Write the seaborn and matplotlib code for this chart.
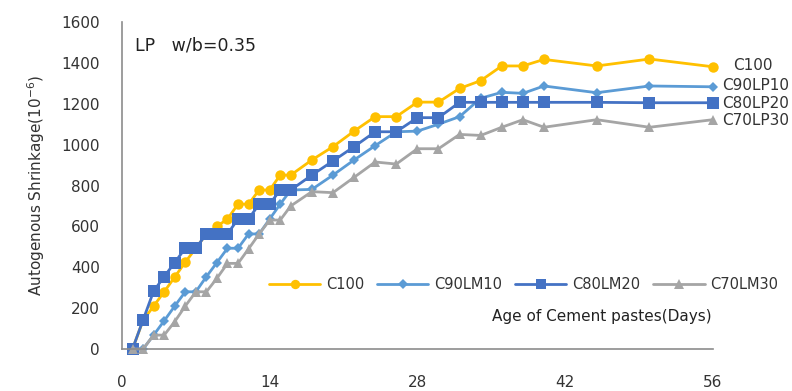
import numpy as np
import pandas as pd
import matplotlib
matplotlib.use("Agg")
import matplotlib.pyplot as plt
import seaborn as sns

# Age (days) and autogenous shrinkage (x10^-6)
days = [1, 2, 3, 4, 5, 6, 7, 8, 9, 10, 11, 12, 13, 14, 15, 16,
        18, 20, 22, 24, 26, 28, 30, 32, 34, 36, 38, 40, 45, 50, 56]

c100 = [0, 140, 210, 280, 352, 425, 493, 563, 600, 636, 709, 709, 778, 778, 851, 851,
        925, 990, 1066, 1137, 1137, 1208, 1208, 1275, 1313, 1385, 1385, 1417, 1385, 1419, 1381]
c90lm10 = [0, 0, 68, 138, 210, 280, 280, 354, 423, 493, 493, 563, 563, 636, 709, 778,
           781, 851, 925, 995, 1063, 1066, 1100, 1137, 1227, 1256, 1251, 1287, 1254, 1287, 1283]
c80lm20 = [0, 142, 283, 354, 423, 493, 493, 563, 563, 563, 636, 636, 709, 709, 778, 778,
           851, 920, 990, 1063, 1063, 1132, 1132, 1207, 1207, 1207, 1207, 1207, 1207, 1205, 1205]
c70lm30 = [0, 0, 68, 68, 134, 210, 280, 280, 346, 419, 419, 490, 563, 631, 631, 700,
           770, 765, 840, 915, 905, 980, 980, 1050, 1045, 1085, 1122, 1085, 1122, 1085, 1122]

legend_names = ["C100", "C90LM10", "C80LM20", "C70LM30"]
end_names = ["C100", "C90LP10", "C80LP20", "C70LP30"]
series = [c100, c90lm10, c80lm20, c70lm30]

colors = ["#FFC000", "#5B9BD5", "#4472C4", "#A5A5A5"]
markers = ["o", "D", "s", "^"]
msizes = [7.5, 5.5, 8, 7.5]

sns.set_style("white")
plt.rcParams["font.family"] = ["DejaVu Sans"]

fig = plt.figure(figsize=(7.92, 3.91), dpi=100)
ax = fig.add_axes([0.154, 0.1074, 0.746, 0.8363])

for name, vals, col, mk, ms in zip(legend_names, series, colors, markers, msizes):
    df = pd.DataFrame({"day": days, "val": vals})
    sns.lineplot(data=df, x="day", y="val", color=col, marker=mk, markersize=ms,
                 markeredgewidth=0, linewidth=2, label=name, ax=ax, clip_on=False)

ax.set_xlim(0, 56)
ax.set_ylim(0, 1600)
ax.set_xticks([0, 14, 28, 42, 56])
ax.set_xticks(np.arange(0, 57, 2), minor=True)
ax.set_yticks(np.arange(0, 1601, 200))

for s in ["top", "right"]:
    ax.spines[s].set_visible(False)
for s in ["left", "bottom"]:
    ax.spines[s].set_color("#8C8C8C")
    ax.spines[s].set_linewidth(1.2)

ax.tick_params(axis="x", which="major", direction="inout", length=10, width=1.2,
               color="#8C8C8C", pad=14, labelsize=11, labelcolor="#333333")
ax.tick_params(axis="x", which="minor", direction="out", length=5, width=1.2,
               color="#8C8C8C")
ax.tick_params(axis="y", which="major", direction="out", length=5, width=1.2,
               color="#8C8C8C", pad=11, labelsize=11, labelcolor="#333333")

ax.set_xlabel("")
ax.set_ylabel("Autogenous Shrinkage(10$^{-6}$)", fontsize=11, color="#333333", labelpad=10)

ax.text(1.2, 1487, "LP   w/b=0.35", fontsize=12.5, color="#222222", va="center")
ax.text(45.5, 161, "Age of Cement pastes(Days)", fontsize=11, color="#222222",
        ha="center", va="center")

# labels at the right end of each curve
end_x = [57.9, 56.9, 56.9, 56.9]
end_y = [1385, 1287, 1203, 1120]
for lab, xx, yy in zip(end_names, end_x, end_y):
    ax.text(xx, yy, lab, fontsize=11, color="#333333", va="center", clip_on=False)

ax.legend(loc="center", bbox_to_anchor=(0.68, 0.196), ncol=4, frameon=False,
          fontsize=10.5, handlelength=3.5, handletextpad=0.4, columnspacing=0.9,
          labelcolor="#333333", markerscale=0.9)

fig.savefig("out.png", dpi=100)
